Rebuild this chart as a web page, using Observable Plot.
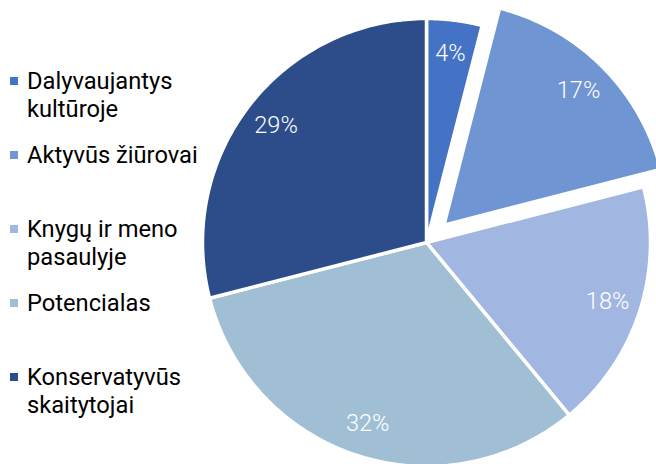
<!DOCTYPE html>
<html>
<head>
<meta charset="utf-8">
<script src="https://cdn.jsdelivr.net/npm/d3@7"></script>
<script src="https://cdn.jsdelivr.net/npm/@observablehq/plot@0.6"></script>
<style>
  html, body { margin: 0; padding: 0; background: #fff; }
  #wrap { position: relative; width: 656px; height: 464px; overflow: hidden; font-family: Roboto, "Noto Sans", sans-serif; }
  #chart { position: absolute; left: 0; top: 0; }
  .item { position: absolute; left: 0; font-size: 23.7px; line-height: 28px; color: #000; }
  .item .sw { position: absolute; left: 10px; top: 10px; width: 8px; height: 8px; }
  .item .tx { position: absolute; left: 27px; top: 0; white-space: pre; }
</style>
</head>
<body>
<div id="wrap"><div id="chart"></div><div id="legend"></div></div>
<script>
const categories = ["Dalyvaujantys kultūroje", "Aktyvūs žiūrovai", "Knygų ir meno pasaulyje", "Potencialas", "Konservatyvūs skaitytojai"];
const legendLabels = ["Dalyvaujantys\nkultūroje", "Aktyvūs žiūrovai", "Knygų ir meno\npasaulyje", "Potencialas", "Konservatyvūs\nskaitytojai"];
const values = [4, 17, 18, 32, 29];
const colors = ["#4472C4", "#7095D3", "#A1B6E1", "#A0BFD4", "#2C4D89"];
const explodedCategory = "Aktyvūs žiūrovai";

const W = 656, H = 464;
const cx = 426, cy = 242, R = 224;
const explodeFrac = 0.11, labelFrac = 0.85, steps = 120;

const arcs = d3.pie().sort(null).value(d => d)(values);
const polyPts = [];
const labelPts = [];
arcs.forEach((a, i) => {
  const cat = categories[i];
  const mid = (a.startAngle + a.endAngle) / 2;
  const off = cat === explodedCategory ? explodeFrac : 0;
  const ox = off * Math.sin(mid), oy = off * Math.cos(mid);
  polyPts.push({cat, x: ox, y: oy});
  for (let k = 0; k <= steps; k++) {
    const t = a.startAngle + (a.endAngle - a.startAngle) * k / steps;
    polyPts.push({cat, x: ox + Math.sin(t), y: oy + Math.cos(t)});
  }
  polyPts.push({cat, x: ox, y: oy});
  labelPts.push({cat, x: ox + labelFrac * Math.sin(mid), y: oy + labelFrac * Math.cos(mid), label: values[i] + "%"});
});

const chart = Plot.plot({
  width: W, height: H,
  margin: 0,
  style: {fontFamily: "Roboto, 'Noto Sans', sans-serif", background: "transparent", overflow: "visible"},
  x: {domain: [-1, 1], range: [cx - R, cx + R], axis: null},
  y: {domain: [-1, 1], range: [cy + R, cy - R], axis: null},
  color: {domain: categories, range: colors},
  marks: [
    Plot.line(polyPts, {x: "x", y: "y", z: "cat", fill: "cat", stroke: "white", strokeWidth: 3.5, strokeLinejoin: "round", curve: "linear"}),
    Plot.text(labelPts, {x: "x", y: "y", text: "label", fill: "white", fontSize: 23.5, fontWeight: 300})
  ]
});
document.getElementById("chart").appendChild(chart);

const legend = document.getElementById("legend");
legendLabels.forEach((lab, i) => {
  const it = document.createElement("div");
  it.className = "item";
  it.style.top = (67 + i * 74) + "px";
  const sw = document.createElement("div");
  sw.className = "sw";
  sw.style.background = colors[i];
  const tx = document.createElement("div");
  tx.className = "tx";
  tx.textContent = lab;
  it.appendChild(sw); it.appendChild(tx);
  legend.appendChild(it);
});
</script>
</body>
</html>
